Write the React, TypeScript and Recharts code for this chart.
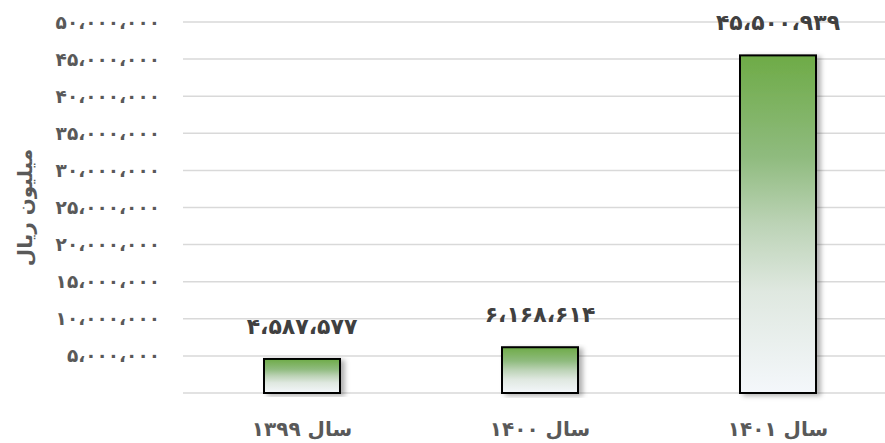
import { BarChart, Bar, XAxis, YAxis, CartesianGrid, LabelList, Label } from 'recharts';

const years = ['سال ۱۳۹۹', 'سال ۱۴۰۰', 'سال ۱۴۰۱'];
const amounts = [4587577, 6168614, 45500939];
const yTicks = [0, 5000000, 10000000, 15000000, 20000000, 25000000, 30000000, 35000000, 40000000, 45000000, 50000000];
const yTitle = 'میلیون ریال';

const data = years.map((year, i) => ({ year, amount: amounts[i] }));

const faDigits = '۰۱۲۳۴۵۶۷۸۹';
const toFa = (n: number) =>
  n
    .toString()
    .replace(/\B(?=(\d{3})+(?!\d))/g, '،')
    .replace(/\d/g, (d) => faDigits[Number(d)]);

const FONT = '"DejaVu Sans", sans-serif';

const ShadowBar = (props: any) => {
  const { x, y, width, height } = props;
  if (height <= 0) return null;
  return (
    <rect
      x={x}
      y={y}
      width={width}
      height={height}
      fill="url(#barGrad)"
      stroke="#000"
      strokeWidth={2}
      filter="url(#barShadow)"
    />
  );
};

export default function App() {
  return (
    <div style={{ position: 'absolute', left: 0, top: 0, width: 885, height: 443, overflow: 'hidden', background: '#fff' }}>
      <BarChart
        width={897}
        height={443}
        data={data}
        margin={{ top: 22, right: 0, left: 0, bottom: 0 }}
        barSize={76}
        style={{ fontFamily: FONT }}
      >
        <defs>
          <linearGradient id="barGrad" x1="0" y1="0" x2="0" y2="1">
            <stop offset="0%" stopColor="#6eab47" />
            <stop offset="30%" stopColor="#8fbb7e" />
            <stop offset="50%" stopColor="#bcd3b6" />
            <stop offset="70%" stopColor="#dfe8e0" />
            <stop offset="100%" stopColor="#f4f7fb" />
          </linearGradient>
          <filter id="barShadow" x="-20%" y="-5%" width="150%" height="115%">
            <feDropShadow dx={4} dy={2} stdDeviation={2.5} floodColor="#000" floodOpacity={0.3} />
          </filter>
        </defs>
        <CartesianGrid vertical={false} stroke="#d9d9d9" strokeWidth={1.5} />
        <XAxis
          dataKey="year"
          axisLine={false}
          tickLine={false}
          tickSize={0}
          tickMargin={29}
          height={50}
          tick={{ fill: '#595959', fontSize: 20, fontWeight: 'bold', fontFamily: FONT }}
        />
        <YAxis
          width={183}
          domain={[0, 50000000]}
          ticks={yTicks}
          interval={0}
          axisLine={false}
          tickLine={false}
          tickSize={0}
          tickMargin={23}
          tickFormatter={(v: number) => (v === 0 ? '' : toFa(v))}
          tick={{ fill: '#595959', fontSize: 18.5, fontWeight: 'bold', fontFamily: FONT }}
        >
          <Label
            content={(p: any) => {
              const vb = p.viewBox || { x: 0, y: 22, width: 183, height: 371 };
              const cx = vb.x + 25;
              const cy = vb.y + vb.height / 2;
              return (
                <text
                  x={cx}
                  y={cy}
                  transform={`rotate(-90, ${cx}, ${cy})`}
                  textAnchor="middle"
                  dominantBaseline="central"
                  fill="#595959"
                  fontSize={20}
                  fontWeight="bold"
                  fontFamily={FONT}
                >
                  {yTitle}
                </text>
              );
            }}
          />
        </YAxis>
        <Bar dataKey="amount" isAnimationActive={false} shape={ShadowBar}>
          <LabelList
            dataKey="amount"
            position="top"
            offset={25}
            formatter={(v: any) => toFa(Number(v))}
            fill="#404040"
            fontSize={22}
            fontWeight="bold"
            fontFamily={FONT}
          />
        </Bar>
      </BarChart>
    </div>
  );
}
